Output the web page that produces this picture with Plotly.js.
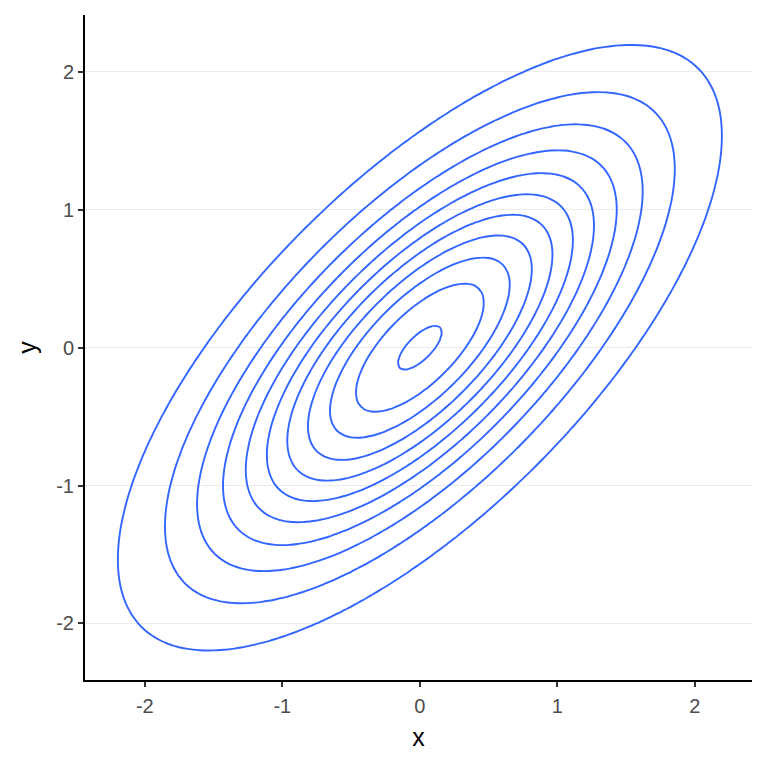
<!DOCTYPE html>
<html>
<head>
<meta charset="utf-8">
<script src="https://cdn.plot.ly/plotly-3.0.1.min.js"></script>
<style>html,body{margin:0;padding:0;background:#fff;}#chart{width:768px;height:768px;}</style>
</head>
<body>
<div id="chart"></div>
<script>
// Bivariate normal density (unit variances) with correlation
const rho = 0.7;
const gridX = [];
const gridY = [];
for (let i = 0; i <= 120; i++) { gridX.push(-3 + i * 0.05); gridY.push(-3 + i * 0.05); }
// Contour levels
const levelStart = 0.02;
const levelEnd = 0.22;
const levelStep = 0.02;
const tickVals = [-2, -1, 0, 1, 2];
const tickText = ["-2", "-1", "0", "1", "2"];

const norm = 1 / (2 * Math.PI * Math.sqrt(1 - rho * rho));
const z = gridY.map(y => gridX.map(x => norm * Math.exp(-(x * x - 2 * rho * x * y + y * y) / (2 * (1 - rho * rho)))));

const trace = {
  type: 'contour',
  x: gridX, y: gridY, z: z,
  autocontour: false,
  contours: {start: levelStart, end: levelEnd, size: levelStep, coloring: 'lines', showlabels: false},
  colorscale: [[0, '#3366FF'], [1, '#3366FF']],
  line: {width: 1.9, smoothing: 1},
  showscale: false,
  hoverinfo: 'skip'
};

const layout = {
  width: 768, height: 768,
  margin: {l: 85, r: 16, t: 15, b: 88},
  paper_bgcolor: '#fff', plot_bgcolor: '#fff',
  showlegend: false,
  font: {family: 'Liberation Sans, Arial, sans-serif'},
  xaxis: {
    range: [-2.435, 2.415],
    tickvals: tickVals, ticktext: tickText,
    showgrid: false, zeroline: false,
    showline: true, linecolor: '#000', linewidth: 2,
    ticks: 'outside', ticklen: 5, tickwidth: 2, tickcolor: '#333',
    ticklabelstandoff: 2,
    tickfont: {size: 20, color: '#4D4D4D'},
    title: {text: 'x', font: {size: 25, color: '#000'}, standoff: 12}
  },
  yaxis: {
    range: [-2.41, 2.413],
    tickvals: tickVals, ticktext: tickText,
    showgrid: true, gridcolor: '#EBEBEB', gridwidth: 1, zeroline: false,
    showline: true, linecolor: '#000', linewidth: 2,
    ticks: 'outside', ticklen: 5, tickwidth: 2, tickcolor: '#333',
    tickfont: {size: 20, color: '#4D4D4D'},
    title: {text: 'y', font: {size: 25, color: '#000'}, standoff: 12}
  }
};

Plotly.newPlot('chart', [trace], layout, {displayModeBar: false, staticPlot: true});
</script>
</body>
</html>
